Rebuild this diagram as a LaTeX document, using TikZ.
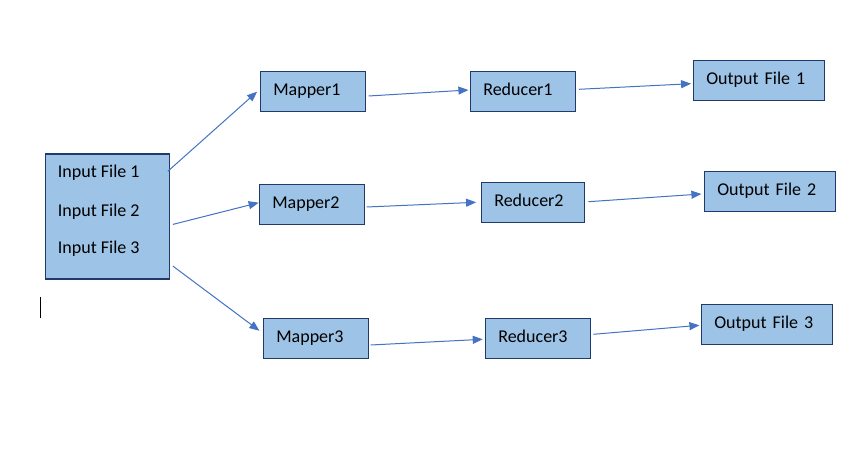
\documentclass[tikz,border=0pt]{standalone}
\usepackage{fontspec}
\setmainfont{Carlito}
\usetikzlibrary{arrows.meta}
\definecolor{boxfill}{HTML}{9DC3E6}
\definecolor{boxline}{HTML}{223A6B}
\definecolor{arrowc}{HTML}{4472C4}
\begin{document}
\begin{tikzpicture}[x=1pt,y=-1pt,
  box/.style={draw=boxline,fill=boxfill,line width=1.2pt,rectangle,
    minimum height=40pt,inner xsep=13pt,inner ysep=0pt,
    text height=12pt,text depth=4pt,align=left,
    font=\fontsize{18}{22}\selectfont},
  lbl/.style={inner sep=0pt,anchor=base west,font=\fontsize{18}{22}\selectfont},
  arr/.style={draw=arrowc,line width=1pt,-{Triangle[length=10pt,width=8pt]}},
]
\useasboundingbox (0,0) rectangle (860,462);
\fill[white] (0,0) rectangle (860,462);

% input box
\node[draw=boxline,fill=boxfill,line width=1.2pt,rectangle,inner sep=0pt,
  minimum width=124pt,minimum height=125pt] (in) at (107.3,216.6) {};
\node[lbl] (t1) at ([shift={(13,23.7)}]in.north west) {Input File 1};
\node[lbl] (t2) at ([shift={(13,62.7)}]in.north west) {Input File 2};
\node[lbl] (t3) at ([shift={(13,99.7)}]in.north west) {Input File 3};

% mappers
\node[box,text width=79pt] (m1) at (312.8,91.3) {Mapper1};
\node[box,text width=79pt] (m2) at (311.8,204.3) {Mapper2};
\node[box,text width=79pt] (m3) at (315.8,338.3) {Mapper3};

% reducers
\node[box,text width=79pt] (r1) at (522.8,91.5) {Reducer1};
\node[box,text width=77pt] (r2) at (532.8,202.3) {Reducer2};
\node[box,text width=79pt] (r3) at (537.8,338.3) {Reducer3};

% outputs
\node[box,text width=105pt] (o1) at (758.8,80.3) {Output File 1};
\node[box,text width=105pt] (o2) at (769.8,191.5) {Output File 2};
\node[box,text width=105pt] (o3) at (766.8,324.3) {Output File 3};

% arrows input -> mappers
\draw[arr] ([shift={(-2,17.7)}]in.north east) -- ([shift={(-2.6,0.4)}]m1.west);
\draw[arr] ([shift={(3,7.8)}]in.east) -- ([shift={(0,-1.6)}]m2.west);
\draw[arr] ([shift={(3,49.5)}]in.east) -- ([shift={(-3.3,-7.6)}]m3.west);

% mappers -> reducers
\draw[arr] ([shift={(2.7,4.7)}]m1.east) -- ([shift={(-1.3,-1.5)}]r1.west);
\draw[arr] ([shift={(1.7,2.7)}]m2.east) -- ([shift={(-4.6,0)}]r2.west);
\draw[arr] ([shift={(1.7,6.7)}]m3.east) -- ([shift={(-2,1)}]r3.west);

% reducers -> outputs
\draw[arr] ([shift={(3,-2.2)}]r1.east) -- ([shift={(-1.6,3.4)}]o1.west);
\draw[arr] ([shift={(3.4,-0.6)}]r2.east) -- ([shift={(-2.3,2.5)}]o2.west);
\draw[arr] ([shift={(2.4,-4)}]r3.east) -- ([shift={(-1.3,1)}]o3.west);

% text cursor
\draw[black,line width=1pt] (40.5,297) -- (40.5,318);
\end{tikzpicture}
\end{document}
